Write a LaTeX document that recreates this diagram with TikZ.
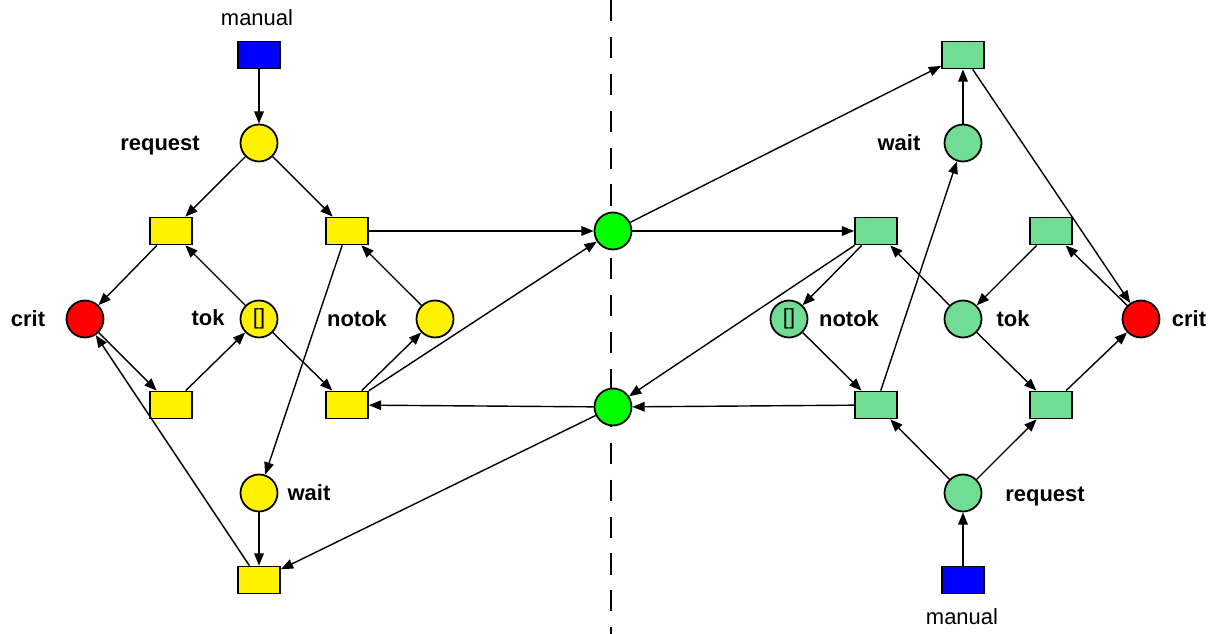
\documentclass[tikz,border=0pt]{standalone}
\usepackage{fontspec}
\setmainfont{Liberation Sans}
\usetikzlibrary{arrows.meta}
\definecolor{palegreen}{RGB}{112,220,148}
\newcommand{\netfont}{\fontsize{12.5}{15}\selectfont}
\tikzset{
  place/.style = {circle, draw, line width = 1pt, minimum size = 0.74cm, inner sep = 0pt, font = \netfont},
  trans/.style = {rectangle, draw, line width = 1pt, minimum width = 0.84cm, minimum height = 0.54cm, inner sep = 0pt},
  lbl/.style = {font = \netfont\bfseries, text height = 1.9ex, text depth = 0.2ex},
  plainlbl/.style = {font = \netfont, text height = 1.9ex, text depth = 0.2ex},
  arc/.style = {-{Triangle[length = 7pt, width = 5.5pt]}, line width = 0.8pt},
}
\begin{document}
\begin{tikzpicture} [x = 0.02cm, y = -0.02cm]
\useasboundingbox (0, 0) rectangle (1215, 634);
\draw[dash pattern = on 12pt off 9pt, line width = 0.8pt] (611, 0) -- (611, 634);
% left net
\node[trans, fill = blue] (lmanual) at (259, 55) {};
\node[place, fill = yellow] (lrequest) at (259, 143) {};
\node[trans, fill = yellow] (lt1) at (171, 231) {};
\node[trans, fill = yellow] (lt2) at (347, 231) {};
\node[place, fill = red] (lcrit) at (85, 319) {};
\node[place, fill = yellow] (ltok) at (259, 319) {[]};
\node[place, fill = yellow] (lnotok) at (435, 319) {};
\node[trans, fill = yellow] (lt3) at (171, 405) {};
\node[trans, fill = yellow] (lt4) at (347, 405) {};
\node[place, fill = yellow] (lwait) at (259, 493) {};
\node[trans, fill = yellow] (lt5) at (259, 580) {};
% shared places
\node[place, fill = green] (gtop) at (613, 231) {};
\node[place, fill = green] (gbot) at (613, 407) {};
% right net
\node[trans, fill = palegreen] (rt0) at (963, 55) {};
\node[place, fill = palegreen] (rwait) at (963, 143) {};
\node[trans, fill = palegreen] (rt1) at (876, 231) {};
\node[trans, fill = palegreen] (rt2) at (1051, 231) {};
\node[place, fill = palegreen] (rnotok) at (789, 319) {[]};
\node[place, fill = palegreen] (rtok) at (963, 319) {};
\node[place, fill = red] (rcrit) at (1141, 319) {};
\node[trans, fill = palegreen] (rt3) at (876, 405) {};
\node[trans, fill = palegreen] (rt4) at (1051, 405) {};
\node[place, fill = palegreen] (rrequest) at (963, 493) {};
\node[trans, fill = blue] (rmanual) at (963, 580) {};
% labels
\node[plainlbl] (lmanualtxt) at (257, 18) {manual};
\node[lbl] (lrequesttxt) at (160, 143) {request};
\node[lbl] (lcrittxt) at (28, 319) {crit};
\node[lbl] (ltoktxt) at (208, 318) {tok};
\node[lbl] (lnotoktxt) at (357, 319) {notok};
\node[lbl] (lwaittxt) at (309, 493) {wait};
\node[lbl] (rwaittxt) at (899, 143) {wait};
\node[lbl] (rnotoktxt) at (849, 319) {notok};
\node[lbl] (rtoktxt) at (1013, 319) {tok};
\node[lbl] (rcrittxt) at (1189, 319) {crit};
\node[lbl] (rrequesttxt) at (1045, 494) {request};
\node[plainlbl] (rmanualtxt) at (962, 617) {manual};
% left arcs
\draw[arc] (lmanual) -- (lrequest);
\draw[arc] (lrequest) -- (lt1);
\draw[arc] (lrequest) -- (lt2);
\draw[arc] (lt1) -- (lcrit);
\draw[arc] (lcrit) -- (lt3);
\draw[arc] (lt3) -- (ltok);
\draw[arc] (ltok) -- (lt1);
\draw[arc] (ltok) -- (lt4);
\draw[arc] (lt4) -- (lnotok);
\draw[arc] (lnotok) -- (lt2);
\draw[arc] (lt2) -- (lwait);
\draw[arc] (lwait) -- (lt5);
\draw[arc] (lt5) -- (lcrit);
% across the cut
\draw[arc] (lt2) -- (gtop);
\draw[arc] (lt4) -- (gtop);
\draw[arc] (gbot) -- (lt4);
\draw[arc] (gbot) -- (lt5);
\draw[arc] (gtop) -- (rt0);
\draw[arc] (gtop) -- (rt1);
\draw[arc] (rt1) -- (gbot);
\draw[arc] (rt3) -- (gbot);
% right arcs
\draw[arc] (rmanual) -- (rrequest);
\draw[arc] (rrequest) -- (rt3);
\draw[arc] (rrequest) -- (rt4);
\draw[arc] (rt4) -- (rcrit);
\draw[arc] (rcrit) -- (rt2);
\draw[arc] (rt2) -- (rtok);
\draw[arc] (rtok) -- (rt1);
\draw[arc] (rtok) -- (rt4);
\draw[arc] (rt1) -- (rnotok);
\draw[arc] (rnotok) -- (rt3);
\draw[arc] (rt3) -- (rwait);
\draw[arc] (rwait) -- (rt0);
\draw[arc] (rt0) -- (rcrit);
\end{tikzpicture}
\end{document}
